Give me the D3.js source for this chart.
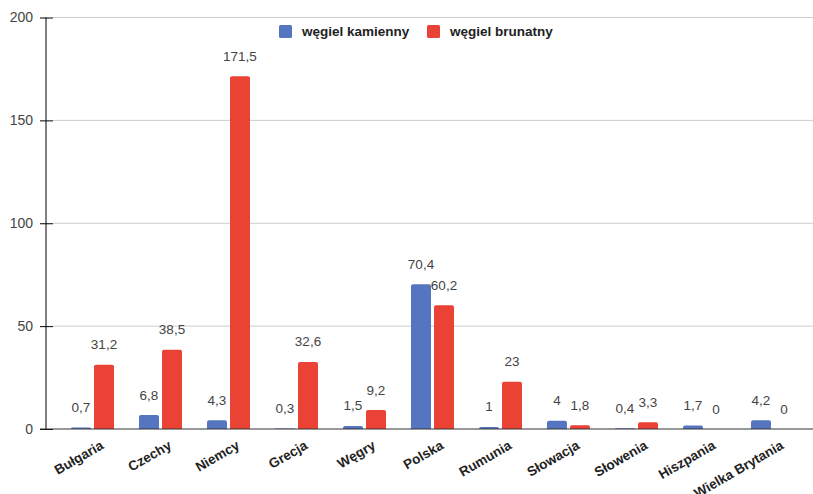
<!DOCTYPE html>
<html><head><meta charset="utf-8">
<script src="https://cdn.jsdelivr.net/npm/d3@7"></script>
<style>
html,body{margin:0;padding:0;background:#fff;}
svg{display:block;font-family:"Liberation Sans",Arial,sans-serif;}
</style></head>
<body>
<svg id="chart" width="813" height="494"></svg>
<script>
const categories = ["Bułgaria","Czechy","Niemcy","Grecja","Węgry","Polska","Rumunia","Słowacja","Słowenia","Hiszpania","Wielka Brytania"];
const seriesNames = ["węgiel kamienny","węgiel brunatny"];
const kamienny = [0.7, 6.8, 4.3, 0.3, 1.5, 70.4, 1, 4, 0.4, 1.7, 4.2];
const brunatny = [31.2, 38.5, 171.5, 32.6, 9.2, 60.2, 23, 1.8, 3.3, 0, 0];
const yTicks = [0, 50, 100, 150, 200];
const colors = ["#5675c1", "#ea4335"];

const svg = d3.select("#chart");
const x = d3.scaleBand().domain(categories).range([58.5, 806.5]);
const y = d3.scaleLinear().domain([0, 200]).range([429, 17.5]);
const fmt = v => String(v).replace(".", ",");

// gridlines
svg.append("g").selectAll("line").data(yTicks.filter(d => d > 0)).join("line")
  .attr("x1", 53).attr("x2", 813)
  .attr("y1", d => y(d)).attr("y2", d => y(d))
  .attr("stroke", "#cccccc").attr("stroke-width", 1);

// y axis
const yAxis = svg.append("g").attr("transform", "translate(46,0)")
  .call(d3.axisLeft(y).tickValues(yTicks).tickSize(6).tickPadding(7).tickFormat(d => d));
yAxis.select(".domain").attr("stroke", "#000").attr("d", `M0,${y(200)}V${y(0)}`);
yAxis.selectAll(".tick line").attr("x2", 7).attr("x1", -6).attr("stroke", "#000");
yAxis.selectAll(".tick text").attr("font-size", 14).attr("fill", "#444")
  .attr("font-family", '"Liberation Sans",Arial,sans-serif');

const barW = 20, gap = 3;
const data = [];
categories.forEach((c, i) => {
  data.push({c, s: 0, v: kamienny[i]});
  data.push({c, s: 1, v: brunatny[i]});
});
const bx = d => x(d.c) + x.bandwidth() / 2 - (barW + gap / 2) + d.s * (barW + gap);

function barPath(d){
  const x0 = bx(d), x1 = x0 + barW, yb = y(0), yt = y(d.v);
  const h = yb - yt; if (h <= 0) return "";
  const r = Math.min(2, h);
  return `M${x0},${yb}V${yt + r}Q${x0},${yt} ${x0 + r},${yt}H${x1 - r}Q${x1},${yt} ${x1},${yt + r}V${yb}Z`;
}
svg.append("g").selectAll("path").data(data).join("path")
  .attr("d", barPath).attr("fill", d => colors[d.s]);

// value labels
svg.append("g").selectAll("text").data(data).join("text")
  .attr("x", d => bx(d) + barW / 2)
  .attr("y", d => y(d.v) - 15.5)
  .attr("text-anchor", "middle").attr("font-size", 13.5).attr("fill", "#444")
  .text(d => fmt(d.v));

// x axis line
svg.append("line").attr("x1", 40).attr("x2", 813).attr("y1", y(0)).attr("y2", y(0))
  .attr("stroke", "#333").attr("stroke-width", 1.2);

// category labels
svg.append("g").selectAll("text").data(categories).join("text")
  .attr("transform", d => `translate(${x(d) + x.bandwidth() / 2 + 12},448) rotate(-30)`)
  .attr("text-anchor", "end").attr("font-size", 13.5).attr("font-weight", "bold").attr("fill", "#222")
  .text(d => d);

// legend
const legendX = [279, 427];
const lg = svg.append("g");
seriesNames.forEach((n, i) => {
  lg.append("rect").attr("x", legendX[i]).attr("y", 25).attr("width", 13).attr("height", 13)
    .attr("rx", 1.5).attr("fill", colors[i]);
  lg.append("text").attr("x", legendX[i] + 23).attr("y", 36).attr("font-size", 13.5)
    .attr("font-weight", "bold").attr("fill", "#222").text(n);
});
</script>
</body></html>
